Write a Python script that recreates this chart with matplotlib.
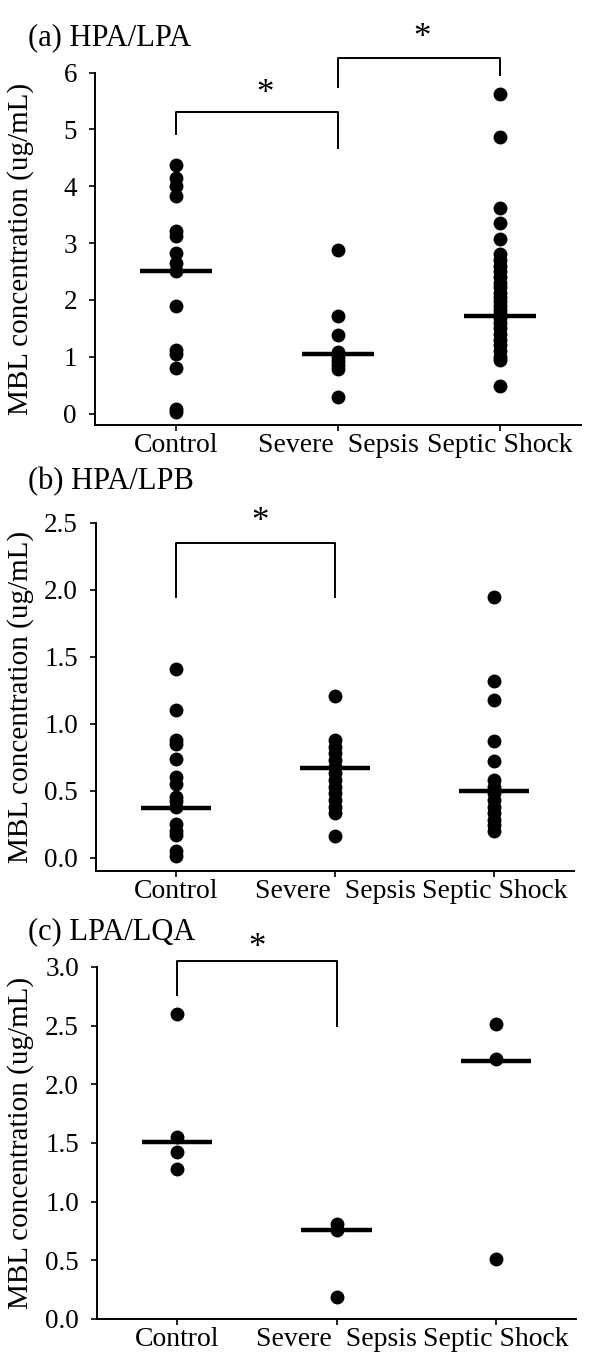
import matplotlib
matplotlib.use("Agg")
import matplotlib.pyplot as plt
import numpy as np

plt.rcParams['font.family'] = ['Liberation Serif', 'DejaVu Serif']

categories = ["Control", "Severe  Sepsis", "Septic Shock"]

# Panel (a) HPA/LPA
a_control = [4.37, 4.15, 4.0, 3.82, 3.22, 3.12, 2.82, 2.65, 2.5, 1.9, 1.12, 1.05, 0.8, 0.08, 0.02]
a_severe = [2.88, 1.72, 1.38, 1.08, 1.0, 0.92, 0.85, 0.78, 0.3]
a_shock = [5.62, 4.87, 3.62, 3.35, 3.08, 2.8, 2.7, 2.6, 2.5, 2.4, 2.3, 2.22, 2.12, 2.05,
           1.98, 1.9, 1.82, 1.75, 1.68, 1.6, 1.5, 1.4, 1.3, 1.2, 1.1, 1.0, 0.95, 0.48]
a_medians = [2.5, 1.05, 1.72]

# Panel (b) HPA/LPB
b_control = [1.41, 1.1, 0.88, 0.85, 0.74, 0.6, 0.55, 0.45, 0.42, 0.38, 0.25, 0.2, 0.17, 0.05, 0.01]
b_severe = [1.21, 0.88, 0.83, 0.78, 0.73, 0.68, 0.63, 0.58, 0.53, 0.48, 0.43, 0.38, 0.33, 0.16]
b_shock = [1.95, 1.32, 1.18, 0.87, 0.72, 0.58, 0.53, 0.48, 0.43, 0.38, 0.33, 0.28, 0.24, 0.2]
b_medians = [0.37, 0.67, 0.5]

# Panel (c) LPA/LQA
c_control = [2.6, 1.55, 1.42, 1.28]
c_severe = [0.81, 0.76, 0.19]
c_shock = [2.51, 2.22, 0.51]
c_medians = [1.51, 0.76, 2.2]

titles = ["(a) HPA/LPA", "(b) HPA/LPB", "(c) LPA/LQA"]
ylabel = "MBL concentration (ug/mL)"

# brackets: (x0, x1, top, left_bottom, right_bottom, star_x, star_y)
a_brackets = [(0, 1, 5.3, 4.92, 4.68, 0.55, 5.74), (1, 2, 6.25, 5.74, 5.95, 1.52, 6.73)]
b_brackets = [(0, 1, 2.35, 1.95, 1.95, 0.53, 2.56)]
c_brackets = [(0, 1, 3.05, 2.76, 2.5, 0.5, 3.22)]

a_yticks = [0, 1, 2, 3, 4, 5, 6]
b_yticks = [0.0, 0.5, 1.0, 1.5, 2.0, 2.5]
c_yticks = [0.0, 0.5, 1.0, 1.5, 2.0, 2.5, 3.0]

fig = plt.figure(figsize=(6, 13.64), dpi=100)
W, H = 600, 1364

def add_axes_px(left, right, top, bottom):
    return fig.add_axes([left / W, 1 - bottom / H, (right - left) / W, (bottom - top) / H])

panels = [
    dict(box=(95, 581, 72.5, 425), data=[a_control, a_severe, a_shock], med=a_medians,
         ylim=(-0.2, 6), yticks=a_yticks, fmt="{:.0f}", br=a_brackets, title_y=38),
    dict(box=(96, 574, 523, 871), data=[b_control, b_severe, b_shock], med=b_medians,
         ylim=(-0.1, 2.5), yticks=b_yticks, fmt="{:.1f}", br=b_brackets, title_y=482),
    dict(box=(97, 576, 967, 1319), data=[c_control, c_severe, c_shock], med=c_medians,
         ylim=(0, 3.0), yticks=c_yticks, fmt="{:.1f}", br=c_brackets, title_y=932),
]

for i, p in enumerate(panels):
    l, r, t, b = p["box"]
    ax = add_axes_px(l, r, t, b)
    for j, vals in enumerate(p["data"]):
        ax.plot([j] * len(vals), vals, 'o', color='black', markersize=10,
                markeredgewidth=0, clip_on=False, zorder=3)
    for j, m in enumerate(p["med"]):
        ax.plot([j - 0.22, j + 0.22], [m, m], color='black', linewidth=3.2,
                solid_capstyle='butt', zorder=4)
    for (x0, x1, top, lb, rb, sx, sy) in p["br"]:
        ax.plot([x0, x0, x1, x1], [lb, top, top, rb], color='black', linewidth=1.4,
                clip_on=False, zorder=2)
        ax.annotate("*", xy=(sx, sy), xytext=(0, -5.5), textcoords='offset points',
                    ha='center', va='center', fontsize=25, annotation_clip=False)
    ax.set_xlim(-0.5, 2.5)
    ax.set_ylim(*p["ylim"])
    ax.set_xticks([0, 1, 2])
    ax.set_xticklabels(categories, fontsize=20)
    ax.set_yticks(p["yticks"])
    ax.set_yticklabels([p["fmt"].format(v) for v in p["yticks"]], fontsize=19.5)
    ax.spines['top'].set_visible(False)
    ax.spines['right'].set_visible(False)
    ax.spines['left'].set_linewidth(1.4)
    ax.spines['bottom'].set_linewidth(1.4)
    ax.spines['left'].set_bounds(p["ylim"][0], p["yticks"][-1])
    ax.tick_params(axis='both', direction='out', length=4, width=1.2)
    ax.tick_params(axis='x', pad=2)
    ax.tick_params(axis='y', pad=9)
    ax.set_ylabel(ylabel, fontsize=21)
    ax.yaxis.set_label_coords(-(l - 34) / (r - l), 0.5)
    fig.text(28 / W, 1 - p["title_y"] / H, titles[i], fontsize=22, ha='left', va='center')

fig.savefig("out.png", dpi=100)
